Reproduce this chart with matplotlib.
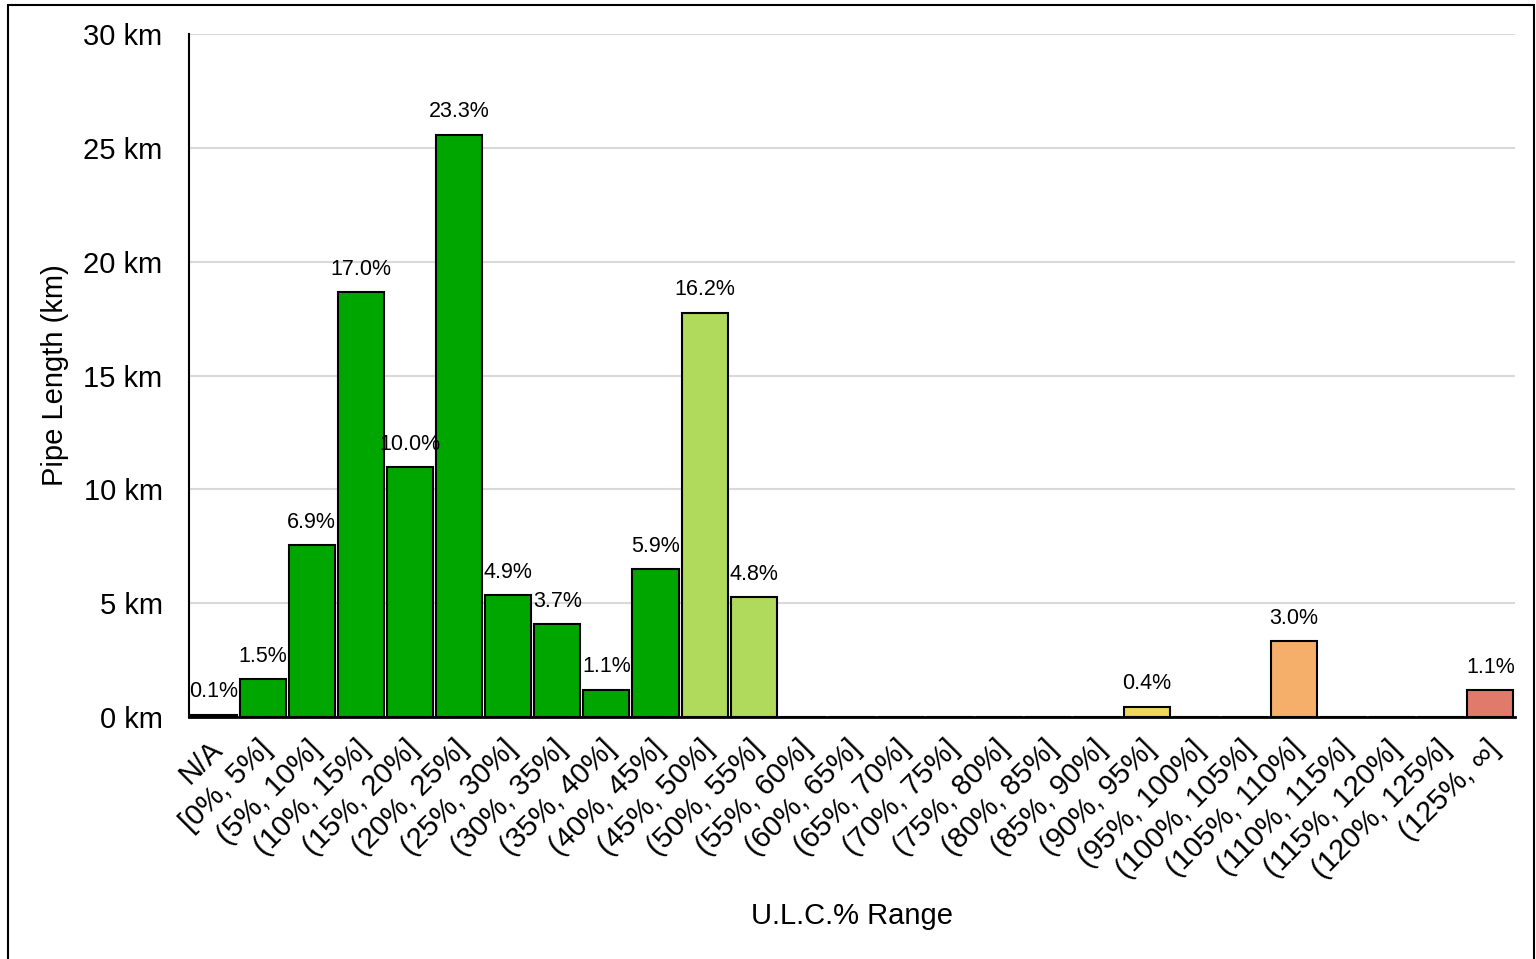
import numpy as np
import matplotlib.pyplot as plt
import matplotlib.transforms as mtransforms
from matplotlib.patches import Rectangle

plt.rcParams['font.family'] = ['Liberation Sans', 'DejaVu Sans']

# U.L.C. ranges and pipe length per range (km)
ranges = ['N/A', '[0%, 5%]', '(5%, 10%]', '(10%, 15%]', '(15%, 20%]', '(20%, 25%]',
          '(25%, 30%]', '(30%, 35%]', '(35%, 40%]', '(40%, 45%]', '(45%, 50%]',
          '(50%, 55%]', '(55%, 60%]', '(60%, 65%]', '(65%, 70%]', '(70%, 75%]',
          '(75%, 80%]', '(80%, 85%]', '(85%, 90%]', '(90%, 95%]', '(95%, 100%]',
          '(100%, 105%]', '(105%, 110%]', '(110%, 115%]', '(115%, 120%]',
          '(120%, 125%]', '(125%, ∞]']
length_km = [0.11, 1.66, 7.55, 18.65, 10.97, 25.58, 5.35, 4.08, 1.20, 6.50, 17.75,
             5.26, 0, 0, 0, 0, 0, 0, 0, 0.46, 0, 0, 3.33, 0, 0, 0, 1.18]

# colour band for each range
dark_green = '#00A600'
light_green = '#AFDA5C'
yellow = '#EDD85B'
orange = '#F5AF6B'
red = '#E07A6A'
bar_colors = ([dark_green] * 10 + [light_green] * 2 + [yellow] * 8 +
              [orange] * 3 + [red] * 4)

lengths = np.array(length_km)
share = lengths / lengths.sum() * 100
x = np.arange(len(ranges))

fig = plt.figure(figsize=(15.36, 9.59), dpi=100)
ax = fig.add_axes([0.123, 0.2523, 0.8633, 0.7122])

ax.bar(x, lengths, width=0.94, color=bar_colors, edgecolor='black', linewidth=1.5, zorder=3)

for xi, v, p in zip(x, lengths, share):
    if v > 0:
        ax.text(xi, v + 0.55, f'{p:.1f}%', ha='center', va='bottom', fontsize=15.5, zorder=4)

ax.set_xlim(-0.5, len(ranges) - 0.5)
ax.set_ylim(0, 30)
ax.set_yticks(np.arange(0, 31, 5))
ax.set_yticklabels([f'{t} km' for t in range(0, 31, 5)], fontsize=21)
ax.yaxis.grid(True, color='#D9D9D9', linewidth=1.5, zorder=0)
ax.tick_params(axis='y', length=0, pad=19)
ax.tick_params(axis='x', length=0, pad=20)

ax.set_xticks(x)
ax.set_xticklabels(ranges, rotation=45, ha='right', va='center', rotation_mode='anchor', fontsize=21)
# nudge the slanted labels a little to the right of their ticks
shift = mtransforms.ScaledTranslation(0.05, 0, fig.dpi_scale_trans)
for lbl in ax.get_xticklabels():
    lbl.set_transform(lbl.get_transform() + shift)

for side in ['top', 'right']:
    ax.spines[side].set_visible(False)
ax.spines['left'].set_linewidth(1.5)
ax.spines['bottom'].set_linewidth(2)
ax.spines['bottom'].set_zorder(5)

ax.set_ylabel('Pipe Length (km)', fontsize=21, labelpad=10)
ax.set_xlabel('U.L.C.% Range', fontsize=21, labelpad=13)

# frame around the whole chart
fig.patches.append(Rectangle((8 / 1536, -0.01), 1526 / 1536, 1 - 5 / 959 + 0.01,
                             transform=fig.transFigure, fill=False,
                             edgecolor='black', linewidth=1.5))

fig.savefig('out.png', dpi=100)
